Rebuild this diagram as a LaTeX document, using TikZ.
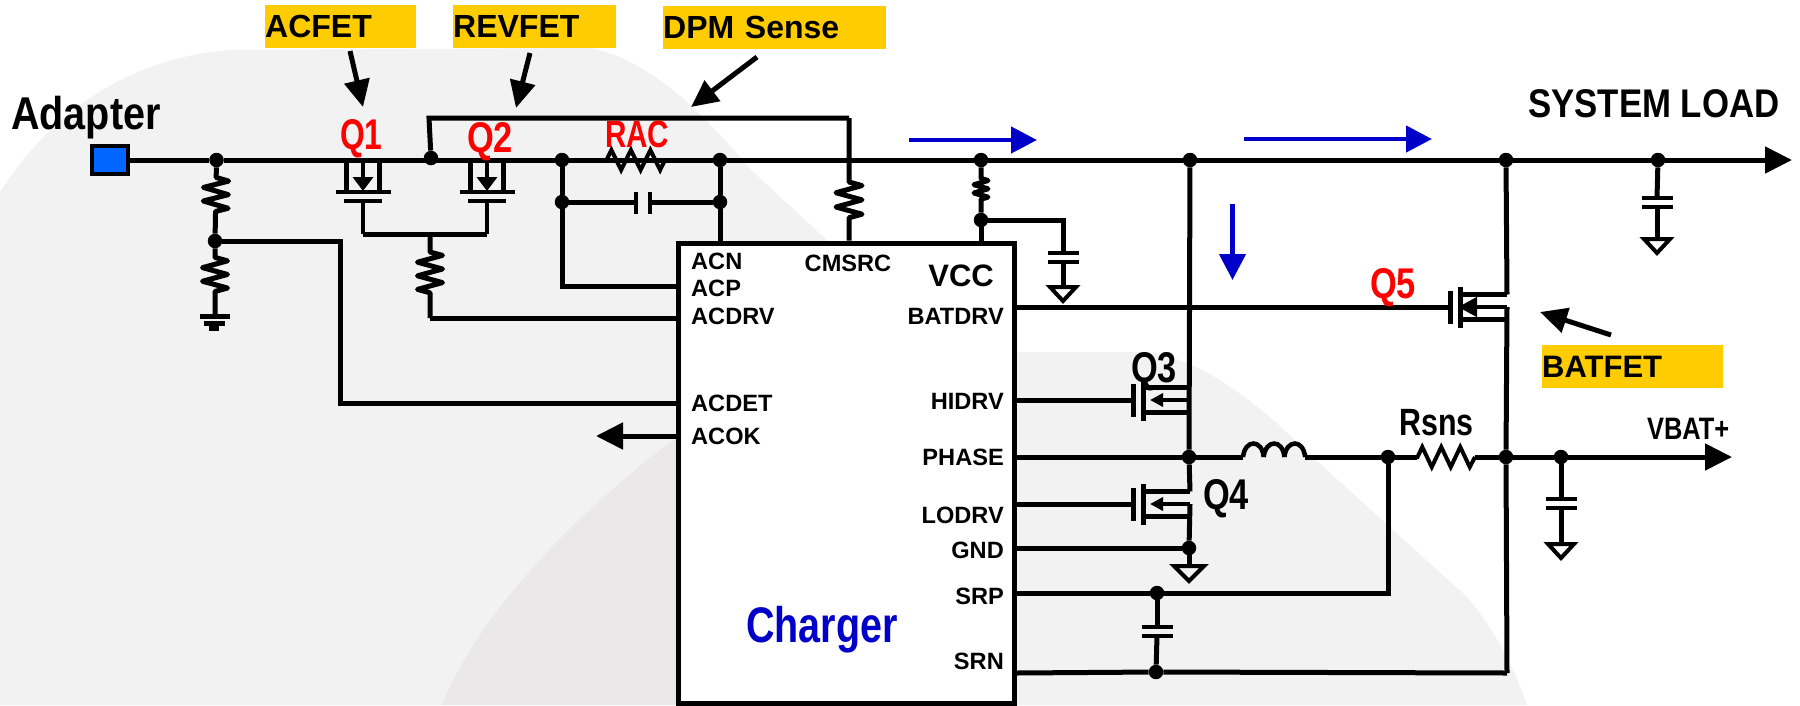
\documentclass[tikz,border=0pt]{standalone}
\usepackage{fontspec}
\setmainfont{Liberation Sans}
\usepackage{xcolor}
\usepackage{tikz}
\usetikzlibrary{arrows.meta, positioning, calc, decorations.pathmorphing}
\definecolor{chargeblue}{RGB}{0, 0, 200}
\definecolor{tagyellow}{RGB}{255, 204, 0}
\definecolor{portblue}{RGB}{0, 102, 255}
\definecolor{bglight}{RGB}{242, 242, 242}
\definecolor{bgdark}{RGB}{234, 232, 233}

\tikzset{
    wire/.style={line width=5pt, line join=miter},
    fetline/.style={line width=4.5pt},
    zig/.style n args={4}{decorate, line join=round, decoration={zigzag, amplitude=#1, segment length=#2, pre length=#3, post length=#4}},
    zigs/.style n args={4}{decorate, line width=4pt, line join=miter, decoration={zigzag, amplitude=#1, segment length=#2, pre length=#3, post length=#4}},
    jdot/.style={circle, fill=black, inner sep=0pt, minimum size=14.5pt},
    txt/.style n args={2}{font=\bfseries\fontsize{#1}{#2}\selectfont, inner sep=0pt},
    pinw/.style={txt={23.6}{26}, anchor=base west},
    pine/.style={txt={23.6}{26}, anchor=base east},
    tag/.style={fill=tagyellow, txt={32}{34}, inner sep=0pt, anchor=west, align=left, minimum height=43pt, text width=#1, minimum width=#1},
    callout/.style={line width=5pt, -{Triangle[length=27pt, width=25pt]}},
    flow/.style={chargeblue, line width=4.5pt, -{Triangle[length=26pt, width=26pt]}},
    bigtip/.style={-{Triangle[length=27pt, width=26pt]}}
}

\begin{document}
\begin{tikzpicture}[x=1pt, y=-1pt]
    \useasboundingbox (0,0) rectangle (1800,705);
    \fill[white] (0,0) rectangle (1800,705);

    % Background shapes
    \fill[bglight] (0,192) .. controls (40,130) and (110,60) .. (230,50) -- (590,48)
        .. controls (650,60) and (700,110) .. (751,170) -- (830,243) -- (1014,352) -- (1147,352)
        .. controls (1190,358) and (1240,385) .. (1307,452) -- (1467,597)
        .. controls (1495,630) and (1515,670) .. (1527,705) -- (0,705) -- cycle;
    \fill[bgdark] (678,436) .. controls (580,510) and (480,610) .. (442,705) -- (678,705) -- cycle;

    % Charger block
    \node[draw, fill=white, line width=5pt, minimum width=336pt, minimum height=460pt, inner sep=0pt] (chip) at (846,473) {};
    \node[txt={50}{52}, anchor=base west, chargeblue, xscale=0.79] (chargername) at (746,642) {Charger};

    % Pin names
    \node[pinw] (acn) at (691,269.5) {ACN};
    \node[pinw] (acp) at (691,296.5) {ACP};
    \node[pinw] (acdrv) at (691,324.5) {ACDRV};
    \node[pinw] (acdet) at (691,411.5) {ACDET};
    \node[pinw] (acok) at (691,444.5) {ACOK};
    \node[txt={23.6}{26}, anchor=base] (cmsrc) at (848,271.5) {CMSRC};
    \node[txt={31}{33}, anchor=base east] (vcc) at (994,286) {VCC};
    \node[pine] (batdrv) at (1004,324.5) {BATDRV};
    \node[pine] (hidrv) at (1004,409) {HIDRV};
    \node[pine] (phase) at (1004,465.5) {PHASE};
    \node[pine] (lodrv) at (1004,523) {LODRV};
    \node[pine] (gnd) at (1004,558.5) {GND};
    \node[pine] (srp) at (1004,604.5) {SRP};
    \node[pine] (srn) at (1004,669) {SRN};

    % Junctions
    \foreach \n/\x/\y in {j1/216.5/160, j2/215/241, jq/431/158, j3/562/160, j3b/562/202, j4/720/160, j4b/720/202,
        j5/981/160, j5b/981/220, j6/1190/160, j7/1506/160, j8/1658/160, j9/1189/457, j10/1388/457,
        j11/1506/457, j12/1561/457, j13/1189/548, j14/1157/593, j15/1156/672} {
        \node[jdot] (\n) at (\x,\y) {};
    }
    \coordinate (racl) at (606,160);
    \coordinate (racr) at (666,160);
    \coordinate (rsl) at (1417,457);
    \coordinate (rsr) at (1475,457);
    \coordinate (sysend) at (1792,160);
    \coordinate (vbatend) at (1732,457);
    \coordinate (okend) at (596,436);
    \coordinate (detc) at (340,403);
    \coordinate (gndl) at (215,315);
    \coordinate (gatejoin) at (430,234);
    \coordinate (drvc) at (430,318);
    \coordinate (dpmc) at (429,118);
    \coordinate (cmc) at (849,118);
    \coordinate (acpc) at (562,286);
    \coordinate (capvcc) at (1063,221);
    \coordinate (srnc) at (1507,673);

    % Adapter and main rail
    \node[draw, fill=portblue, line width=4pt, minimum width=36pt, minimum height=28pt, inner sep=0pt] (adapter) at (109.5,160) {};
    \node[txt={46}{48}, anchor=base west, xscale=0.86] (adaptername) at (11,129) {Adapter};
    \draw[wire] (adapter) -- (j1) -- (j3) -- (j4) -- (j5) -- (j6) -- (j7) -- (j8);
    \draw[zigs={10pt}{19.5pt}{0.5pt}{0.5pt}] (racl) -- (racr);
    \draw[wire, bigtip] (j8) -- (sysend);

    % Divider and ground
    \draw[wire, zig={12.5pt}{13.6pt}{10pt}{16pt}] (j1) -- (j2);
    \draw[wire, zig={12.5pt}{13.6pt}{9pt}{17pt}] (j2) -- (gndl);
    \draw[wire] (j2) -| (detc) -- (chip.west |- detc);
    \fill (200,313.5) rectangle (230,319);
    \fill (204,320.5) rectangle (225,325.5);
    \fill (209,326) rectangle (219,331);

    % Q1 and Q2
    \foreach \n/\x in {1/363,2/487} {
        \coordinate (g\n) at (\x,234);
        \draw[fetline] (\x-16.5,160) -- (\x-16.5,192);
        \draw[fetline] (\x+16.5,160) -- (\x+16.5,192);
        \draw[fetline, -{Triangle[length=14pt, width=20pt]}] (\x,160) -- (\x,191);
        \draw[fetline] (\x-27.5,192) -- (\x+27.5,192);
        \draw[fetline] (\x-19,201) -- (\x+19,201);
        \draw[fetline] (\x,201) -- (g\n);
    }
    \draw[wire] (g1) -- (g2);
    \draw[wire, zig={12.5pt}{13.6pt}{18pt}{25pt}] (gatejoin) -- (drvc);
    \draw[wire] (drvc) -- (chip.west |- drvc);

    % Sense lines round RAC
    \draw[wire] (jq) -- (dpmc) -- (cmc);
    \draw[wire, zig={13pt}{14.3pt}{64pt}{18pt}] (cmc) -- (chip.north -| cmc);
    \draw[wire] (j3) -- (j3b) -- (acpc) -- (chip.west |- acpc);
    \draw[wire] (j4) -- (j4b) -- (chip.north -| j4b);
    \coordinate (racapl) at (636,202);
    \coordinate (racapr) at (650,202);
    \draw[wire] (j3b) -- (racapl);
    \draw[wire] (racapr) -- (j4b);
    \draw[fetline] (636,192) -- (636,214);
    \draw[fetline] (650,192) -- (650,214);

    % VCC filter
    \draw[wire, zig={7pt}{8.3pt}{11pt}{10pt}] (j5) -- (j5b);
    \draw[wire] (j5b) -- (chip.north -| j5b);
    \draw[wire] (j5b) -| (capvcc);

    % Shunt capacitors to ground
    \foreach \n/\x/\y/\g in {1/1063/253/286, 2/1657/198/238, 3/1561/499/543} {
        \coordinate (capt\n) at (\x,\y);
        \draw[fetline] (\x-15.5,\y) -- (\x+15.5,\y);
        \draw[fetline] (\x-15.5,\y+9) -- (\x+15.5,\y+9);
        \draw[wire] (\x,\y+9) -- (\x,\g);
        \draw[line width=4pt, line join=miter] (\x-13,\g+1) -- (\x+13,\g+1) -- (\x,\g+15) -- cycle;
    }
    \draw[wire] (capvcc) -- (capt1);
    \draw[wire] (j8) -- (capt2);
    \draw[wire] (j12) -- (capt3);

    % Q3, Q4 and Q5
    \foreach \n/\gx/\cy/\dx/\tp/\al in {3/1133/400/1190/1150/13, 4/1133/504/1190/1150/13, 5/1450/307/1507/1458/19} {
        \coordinate (gate\n) at (\gx,\cy);
        \coordinate (drain\n) at (\dx,\cy-12.5);
        \coordinate (src\n) at (\dx,\cy);
        \draw[line width=5pt] (\gx,\cy-16.5) -- (\gx,\cy+16.5);
        \draw[line width=5pt] (\gx+10.5,\cy-20) -- (\gx+10.5,\cy+21);
        \draw[fetline] (\gx+10.5,\cy-12.5) -- (drain\n);
        \draw[fetline] (\gx+10.5,\cy+12.5) -- (\dx,\cy+12.5);
        \draw[fetline, -{Triangle[length=\al pt, width=\al pt]}] (src\n) -- (\tp,\cy);
    }
    \draw[wire] (chip.east |- gate3) -- (gate3);
    \draw[wire] (chip.east |- gate4) -- (gate4);
    \draw[wire] (chip.east |- gate5) -- (gate5);
    \draw[wire] (j6) -- (j9);
    \draw[wire] (j9) -- (drain4);
    \draw[wire] (src4) -- (j13);
    \draw[wire] (j7) -- (drain5);
    \draw[wire] (src5) -- (j11);
    \draw[wire] (j11) -- (srnc);
    \draw[wire] (chip.east |- j13) -- (j13);
    \coordinate (gndtop) at (1189,566);
    \draw[wire] (j13) -- (gndtop);
    \draw[line width=4pt, line join=miter] (1174,566) -- (1204,566) -- (1189,581) -- cycle;

    % Phase node, inductor and sense resistor
    \coordinate (indl) at (1243,457);
    \coordinate (indr) at (1305,457);
    \draw[wire] (chip.east |- j9) -- (j9) -- (indl);
    \foreach \i in {0,1,2} {
        \draw[line width=4.5pt] (1243+\i*20.7,457) .. controls (1245+\i*20.7,439) and (1262+\i*20.7,439) .. (1263.7+\i*20.7,457);
    }
    \draw[wire] (indr) -- (j10);
    \draw[wire] (j10) -- (rsl);
    \draw[zigs={10pt}{19pt}{0.5pt}{0.5pt}] (rsl) -- (rsr);
    \draw[wire] (rsr) -- (j11);
    \draw[wire] (j11) -- (j12);
    \draw[wire, bigtip] (j12) -- (vbatend);

    % Current sense lines
    \draw[wire] (chip.east |- j14) -- (j14) -| (j10);
    \draw[wire] (chip.east |- srnc) -- (j15) -- (srnc);
    \coordinate (srcapt) at (1157,627);
    \coordinate (srcapb) at (1157,636);
    \draw[wire] (j14) -- (srcapt);
    \draw[wire] (srcapb) -- (j15);
    \draw[fetline] (1142,627) -- (1173,627);
    \draw[fetline] (1142,636) -- (1173,636);

    % ACOK output
    \draw[wire, bigtip] (chip.west |- okend) -- (okend);

    % Component names
    \node[txt={43}{45}, anchor=base west, red, xscale=0.74] (q1) at (340,149) {Q1};
    \node[txt={43}{45}, anchor=base west, red, xscale=0.8] (q2) at (467,152) {Q2};
    \node[txt={38}{40}, anchor=base west, red, xscale=0.78] (rac) at (605,147) {RAC};
    \node[txt={43}{45}, anchor=base west, red, xscale=0.8] (q5) at (1370,298) {Q5};
    \node[txt={43}{45}, anchor=base west, xscale=0.8] (q3) at (1131,382) {Q3};
    \node[txt={43}{45}, anchor=base west, xscale=0.8] (q4) at (1203,509) {Q4};
    \node[txt={38}{40}, anchor=base west, xscale=0.8] (rsns) at (1399,435) {Rsns};
    \node[txt={31}{33}, anchor=base west, xscale=0.82] (vbat) at (1647,439) {VBAT+};
    \node[txt={40}{42}, anchor=base west, xscale=0.87] (sysload) at (1528,117) {SYSTEM LOAD};

    % Tags and their arrows
    \node[tag=151pt] (acfet) at (265,26.5) {ACFET};
    \node[tag=163pt] (revfet) at (453,26.5) {REVFET};
    \node[tag=223pt] (dpm) at (663,27.5) {DPM Sense};
    \node[tag=181pt] (batfet) at (1542,366.5) {\fontsize{31}{33}\selectfont BATFET};
    \coordinate (act) at (350,51);
    \coordinate (ach) at (363,107);
    \coordinate (rvt) at (530,53);
    \coordinate (rvh) at (516,108);
    \coordinate (dpt) at (757,57);
    \coordinate (dph) at (691,107);
    \coordinate (bat) at (1611,335);
    \coordinate (bah) at (1540,312);
    \draw[callout] (act) -- (ach);
    \draw[callout] (rvt) -- (rvh);
    \draw[callout] (dpt) -- (dph);
    \draw[callout] (bat) -- (bah);

    % Current flow
    \coordinate (fl1a) at (909,140);
    \coordinate (fl1b) at (1037,140);
    \coordinate (fl2a) at (1244,139);
    \coordinate (fl2b) at (1432,139);
    \coordinate (fl3a) at (1232.5,204);
    \coordinate (fl3b) at (1232.5,280);
    \draw[flow] (fl1a) -- (fl1b);
    \draw[flow] (fl2a) -- (fl2b);
    \draw[flow] (fl3a) -- (fl3b);
\end{tikzpicture}
\end{document}
